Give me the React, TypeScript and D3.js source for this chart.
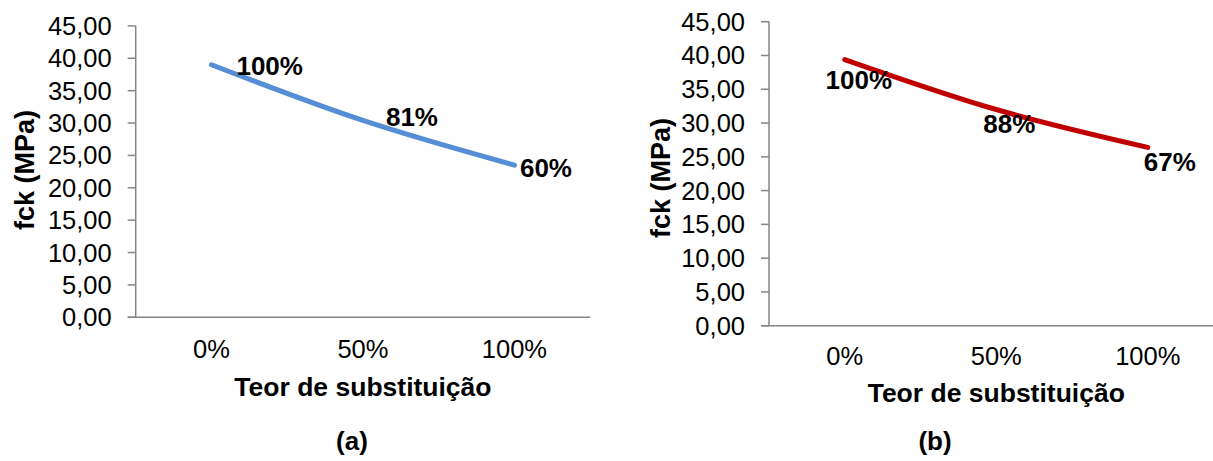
import React from "react";
import * as d3 from "d3";

// Substitution levels on the category axis
const categories = ["0%", "50%", "100%"];

// fck (MPa) for each substitution level, panel (a) and panel (b)
const fckA = [39.0, 30.4, 23.5];
const fckB = [39.4, 32.0, 26.4];

// Relative strength labels written next to each point
const labelsA = ["100%", "81%", "60%"];
const labelsB = ["100%", "88%", "67%"];

// Value axis ticks
const yTicks = [0, 5, 10, 15, 20, 25, 30, 35, 40, 45];

const W = 1213;
const H = 461;
const FONT = "'Liberation Sans', Arial, Helvetica, sans-serif";

type PanelProps = {
  values: number[];
  labels: string[];
  color: string;
  axisX: number;
  y0: number;
  yTop: number;
  band: number;
  letter: string;
  letterX: number;
  letterY: number;
  titleYX: number;
  titleYY: number;
  titleXDy: number;
  tickLabelDy: number;
  labelOffsets: { dx: number; dy: number; anchor: "start" | "middle" }[];
};

function Panel(p: PanelProps) {
  const y = d3.scaleLinear().domain([0, 45]).range([p.y0, p.yTop]);
  const x = d3
    .scaleBand<string>()
    .domain(categories)
    .range([p.axisX, p.axisX + p.band * categories.length])
    .padding(0);
  const cx = (c: string) => (x(c) ?? 0) + x.bandwidth() / 2;

  const pts: [number, number][] = p.values.map((v, i) => [cx(categories[i]), y(v)]);
  const line = d3
    .line<[number, number]>()
    .x((d) => d[0])
    .y((d) => d[1])
    .curve(d3.curveCardinal.tension(0));

  const axisColor = "#868686";
  const tickLen = 8;
  const [r0, r1] = x.range();

  return (
    <g>
      {/* value axis */}
      <line x1={p.axisX} x2={p.axisX} y1={y(45)} y2={y(0)} stroke={axisColor} strokeWidth={1.5} />
      {yTicks.map((t) => (
        <g key={t}>
          <line
            x1={p.axisX - tickLen}
            x2={p.axisX}
            y1={y(t)}
            y2={y(t)}
            stroke={axisColor}
            strokeWidth={1.5}
          />
          <text
            x={p.axisX - 24}
            y={y(t) + 9}
            textAnchor="end"
            fontSize={25.5}
            fontFamily={FONT}
            fill="#000"
          >
            {t.toFixed(2).replace(".", ",")}
          </text>
        </g>
      ))}
      {/* category axis */}
      <line x1={r0 - tickLen} x2={r1} y1={y(0)} y2={y(0)} stroke={axisColor} strokeWidth={1.5} />
      {categories.map((c) => (
        <text
          key={c}
          x={cx(c)}
          y={y(0) + p.tickLabelDy}
          textAnchor="middle"
          fontSize={25.5}
          fontFamily={FONT}
          fill="#000"
        >
          {c}
        </text>
      ))}
      {/* series */}
      <path d={line(pts) ?? ""} fill="none" stroke={p.color} strokeWidth={5} strokeLinecap="round" />
      {pts.map((pt, i) => (
        <text
          key={i}
          x={pt[0] + p.labelOffsets[i].dx}
          y={pt[1] + p.labelOffsets[i].dy}
          textAnchor={p.labelOffsets[i].anchor}
          fontSize={26}
          fontWeight="bold"
          fontFamily={FONT}
          fill="#000"
        >
          {p.labels[i]}
        </text>
      ))}
      {/* axis titles */}
      <text
        transform={`translate(${p.titleYX},${p.titleYY}) rotate(-90)`}
        textAnchor="middle"
        fontSize={27}
        fontWeight="bold"
        fontFamily={FONT}
        fill="#000"
      >
        fck (MPa)
      </text>
      <text
        x={cx("50%")}
        y={y(0) + p.titleXDy}
        textAnchor="middle"
        fontSize={26.5}
        fontWeight="bold"
        fontFamily={FONT}
        fill="#000"
      >
        Teor de substituição
      </text>
      <text
        x={p.letterX}
        y={p.letterY}
        textAnchor="middle"
        fontSize={26}
        fontWeight="bold"
        fontFamily={FONT}
        fill="#000"
      >
        {p.letter}
      </text>
    </g>
  );
}

export default function App() {
  return (
    <svg
      width={W}
      height={H}
      viewBox={`0 0 ${W} ${H}`}
      style={{ position: "absolute", left: 0, top: 0, background: "#fff" }}
    >
      <rect width={W} height={H} fill="#fff" />
      <Panel
        values={fckA}
        labels={labelsA}
        color="#558ED5"
        axisX={135.7}
        y0={317.3}
        yTop={25.9}
        band={151.5}
        letter="(a)"
        letterX={352}
        letterY={450}
        titleYX={34}
        titleYY={170}
        titleXDy={79}
        tickLabelDy={41}
        labelOffsets={[
          { dx: 25, dy: 10, anchor: "start" },
          { dx: 23, dy: 6, anchor: "start" },
          { dx: 5.5, dy: 11.6, anchor: "start" },
        ]}
      />
      <Panel
        values={fckB}
        labels={labelsB}
        color="#C00000"
        axisX={769}
        y0={325.7}
        yTop={21.7}
        band={151.5}
        letter="(b)"
        letterX={935}
        letterY={450}
        titleYX={670}
        titleYY={178}
        titleXDy={76}
        tickLabelDy={39}
        labelOffsets={[
          { dx: 14, dy: 29, anchor: "middle" },
          { dx: 13, dy: 23, anchor: "middle" },
          { dx: 22, dy: 24, anchor: "middle" },
        ]}
      />
    </svg>
  );
}
